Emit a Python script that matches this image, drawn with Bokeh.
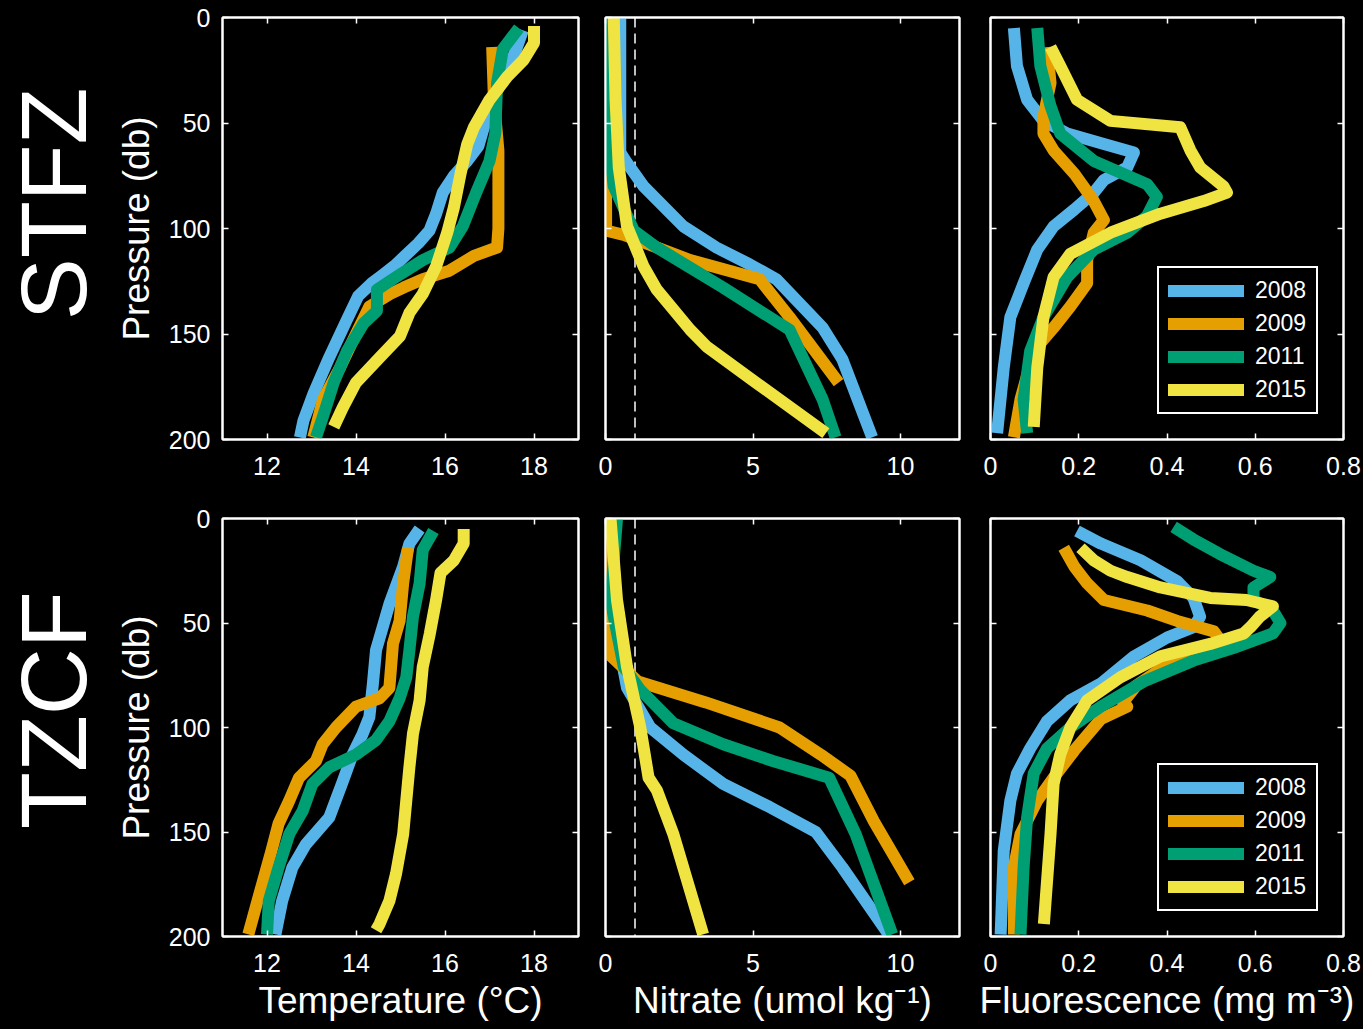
import math
from bokeh.plotting import figure
from bokeh.models import Range1d, FixedTicker, LinearAxis, Legend, LegendItem, Span
from bokeh.layouts import row, column
from bokeh.embed import file_html
from bokeh.resources import INLINE
from bokeh.core.properties import value

# ---------------- data ----------------
YEARS = ["2008", "2009", "2011", "2015"]
COLORS = ["#56B4E9", "#E69F00", "#009E73", "#F0E442"]
REGIONS = ["STFZ", "TZCF"]

P_TICKS = [0, 50, 100, 150, 200]
P_TICK_LABELS = ["0", "50", "100", "150", "200"]
T_TICKS = [12, 14, 16, 18]
T_TICK_LABELS = ["12", "14", "16", "18"]
N_TICKS = [0, 5, 10]
N_TICK_LABELS = ["0", "5", "10"]
F_TICKS = [0, 0.2, 0.4, 0.6, 0.8]
F_TICK_LABELS = ["0", "0.2", "0.4", "0.6", "0.8"]
NITRATE_REF = 1.0

# STFZ temperature
T_STFZ_2008_P = [6, 15, 25, 40, 50, 61, 68, 75, 83, 93, 101, 107, 113, 117, 122, 126, 132, 143, 161, 178, 191, 199]
T_STFZ_2008 = [17.75, 17.6, 17.4, 17.05, 16.9, 16.75, 16.5, 16.2, 15.95, 15.8, 15.65, 15.4, 15.1, 14.9, 14.6, 14.35, 14.05, 13.8, 13.4, 13.05, 12.82, 12.74]
T_STFZ_2009_P = [14, 39, 63, 80, 100, 109, 113, 120, 124, 128, 131, 137, 150, 166, 181, 199]
T_STFZ_2009 = [17.06, 17.1, 17.2, 17.2, 17.2, 17.17, 16.65, 16.1, 15.5, 15.07, 14.77, 14.3, 14.0, 13.64, 13.26, 13.04]
T_STFZ_2011_P = [5, 15, 31, 55, 68, 83, 99, 109, 115, 123, 129, 139, 145, 158, 173, 189, 199]
T_STFZ_2011 = [17.66, 17.3, 17.17, 17.13, 17.0, 16.7, 16.4, 16.1, 15.5, 14.9, 14.47, 14.47, 14.17, 13.8, 13.5, 13.26, 13.1]
T_STFZ_2015_P = [4, 12, 20, 28, 39, 52, 60, 74, 90, 102, 118, 131, 140, 151, 161, 173, 185, 194]
T_STFZ_2015 = [18.0, 18.0, 17.77, 17.4, 17.0, 16.65, 16.5, 16.35, 16.2, 16.05, 15.8, 15.5, 15.2, 14.99, 14.54, 14.0, 13.7, 13.5]

# STFZ nitrate
N_STFZ_2008_P = [0, 64, 69, 80, 99, 109, 117, 124, 147, 162, 199]
N_STFZ_2008 = [0.5, 0.5, 0.73, 1.29, 2.64, 3.76, 4.89, 5.79, 7.36, 8.03, 9.04]
N_STFZ_2009_P = [0, 40, 77, 101, 103, 115, 124, 142, 173]
N_STFZ_2009 = [0.05, 0.05, 0.02, 0.02, 0.62, 2.87, 5.22, 6.24, 7.9]
N_STFZ_2011_P = [0, 55, 80, 101, 109, 128, 148, 181, 199]
N_STFZ_2011 = [0.0, 0.06, 0.28, 0.96, 1.74, 3.99, 6.24, 7.36, 7.8]
N_STFZ_2015_P = [0, 39, 71, 99, 118, 129, 148, 156, 173, 197]
N_STFZ_2015 = [0.28, 0.34, 0.45, 0.73, 1.29, 1.74, 2.87, 3.43, 5.1, 7.47]

# STFZ fluorescence
F_STFZ_2008_P = [5, 23, 39, 49, 55, 60, 64, 71, 77, 83, 91, 99, 110, 126, 142, 166, 197]
F_STFZ_2008 = [0.053, 0.06, 0.083, 0.12, 0.174, 0.257, 0.325, 0.31, 0.257, 0.234, 0.19, 0.143, 0.106, 0.075, 0.045, 0.03, 0.015]
F_STFZ_2009_P = [14, 31, 47, 55, 63, 74, 87, 96, 102, 115, 126, 137, 147, 158, 181, 199]
F_STFZ_2009 = [0.128, 0.136, 0.12, 0.12, 0.143, 0.19, 0.234, 0.257, 0.234, 0.219, 0.219, 0.181, 0.143, 0.098, 0.068, 0.053]
F_STFZ_2011_P = [5, 23, 42, 55, 68, 79, 85, 94, 102, 110, 123, 142, 158, 181, 197]
F_STFZ_2011 = [0.106, 0.113, 0.136, 0.158, 0.234, 0.355, 0.377, 0.355, 0.31, 0.234, 0.174, 0.12, 0.09, 0.075, 0.083]
F_STFZ_2015_P = [14, 23, 39, 49, 52, 63, 71, 80, 83, 87, 93, 102, 112, 123, 142, 166, 194]
F_STFZ_2015 = [0.136, 0.158, 0.196, 0.272, 0.43, 0.453, 0.475, 0.528, 0.536, 0.483, 0.385, 0.272, 0.181, 0.143, 0.12, 0.106, 0.098]

# TZCF temperature
T_TZCF_2008_P = [5, 12, 23, 41, 52, 63, 79, 95, 103, 113, 126, 143, 156, 167, 183, 199]
T_TZCF_2008 = [15.43, 15.2, 15.06, 14.75, 14.6, 14.45, 14.38, 14.3, 14.15, 13.92, 13.7, 13.4, 12.87, 12.57, 12.34, 12.19]
T_TZCF_2009_P = [14, 31, 49, 60, 81, 86, 90, 100, 108, 116, 124, 135, 146, 159, 175, 199]
T_TZCF_2009 = [15.17, 15.06, 14.98, 14.83, 14.75, 14.53, 14.0, 13.55, 13.25, 13.1, 12.72, 12.5, 12.26, 12.1, 11.89, 11.58]
T_TZCF_2011_P = [6, 15, 31, 47, 63, 76, 86, 97, 106, 113, 119, 127, 140, 151, 167, 183, 199]
T_TZCF_2011 = [15.74, 15.5, 15.43, 15.28, 15.2, 15.13, 14.98, 14.75, 14.45, 14.0, 13.4, 13.02, 12.8, 12.5, 12.26, 12.04, 12.0]
T_TZCF_2015_P = [5, 12, 20, 26, 39, 55, 71, 87, 103, 119, 135, 151, 170, 183, 194, 197]
T_TZCF_2015 = [16.42, 16.42, 16.2, 15.9, 15.8, 15.66, 15.5, 15.43, 15.28, 15.2, 15.13, 15.06, 14.9, 14.75, 14.53, 14.45]

# TZCF nitrate
N_TZCF_2008_P = [0, 39, 81, 100, 113, 127, 138, 150, 167, 199]
N_TZCF_2008 = [0.3, 0.17, 0.73, 1.52, 2.64, 3.99, 5.56, 7.13, 8.03, 9.6]
N_TZCF_2009_P = [0, 49, 66, 78, 88, 100, 113, 123, 145, 174]
N_TZCF_2009 = [0.0, 0.0, 0.2, 1.1, 3.4, 5.9, 7.3, 8.3, 9.1, 10.3]
N_TZCF_2011_P = [0, 39, 71, 82, 98, 108, 116, 124, 151, 199]
N_TZCF_2011 = [0.39, 0.17, 0.62, 1.18, 2.3, 3.99, 5.67, 7.58, 8.48, 9.72]
N_TZCF_2015_P = [0, 39, 71, 100, 124, 130, 151, 199]
N_TZCF_2015 = [0.17, 0.39, 0.73, 1.18, 1.46, 1.74, 2.3, 3.31]

# TZCF fluorescence
F_TZCF_2008_P = [6, 12, 20, 30, 38, 47, 52, 57, 66, 79, 87, 97, 110, 122, 135, 159, 199]
F_TZCF_2008 = [0.196, 0.25, 0.34, 0.423, 0.46, 0.475, 0.46, 0.4, 0.325, 0.25, 0.181, 0.128, 0.09, 0.06, 0.045, 0.03, 0.023]
F_TZCF_2009_P = [14, 23, 31, 39, 44, 49, 54, 58, 63, 70, 80, 88, 90, 96, 111, 124, 135, 151, 167, 199]
F_TZCF_2009 = [0.166, 0.19, 0.219, 0.257, 0.355, 0.423, 0.506, 0.52, 0.48, 0.4, 0.33, 0.3, 0.31, 0.25, 0.19, 0.143, 0.106, 0.068, 0.053, 0.053]
F_TZCF_2011_P = [4, 10, 17, 25, 28, 33, 39, 44, 50, 55, 62, 68, 78, 90, 100, 110, 122, 143, 167, 199]
F_TZCF_2011 = [0.415, 0.46, 0.52, 0.596, 0.634, 0.596, 0.596, 0.64, 0.657, 0.64, 0.55, 0.46, 0.347, 0.25, 0.181, 0.128, 0.098, 0.083, 0.075, 0.068]
F_TZCF_2015_P = [14, 20, 25, 28, 33, 38, 39, 42, 47, 52, 55, 60, 66, 76, 87, 100, 113, 127, 151, 194]
F_TZCF_2015 = [0.204, 0.234, 0.272, 0.31, 0.385, 0.498, 0.58, 0.64, 0.61, 0.589, 0.574, 0.498, 0.385, 0.294, 0.219, 0.181, 0.158, 0.143, 0.136, 0.121]

PROFILES = {
    ("STFZ", "T"): [(T_STFZ_2008, T_STFZ_2008_P), (T_STFZ_2009, T_STFZ_2009_P), (T_STFZ_2011, T_STFZ_2011_P), (T_STFZ_2015, T_STFZ_2015_P)],
    ("STFZ", "N"): [(N_STFZ_2008, N_STFZ_2008_P), (N_STFZ_2009, N_STFZ_2009_P), (N_STFZ_2011, N_STFZ_2011_P), (N_STFZ_2015, N_STFZ_2015_P)],
    ("STFZ", "F"): [(F_STFZ_2008, F_STFZ_2008_P), (F_STFZ_2009, F_STFZ_2009_P), (F_STFZ_2011, F_STFZ_2011_P), (F_STFZ_2015, F_STFZ_2015_P)],
    ("TZCF", "T"): [(T_TZCF_2008, T_TZCF_2008_P), (T_TZCF_2009, T_TZCF_2009_P), (T_TZCF_2011, T_TZCF_2011_P), (T_TZCF_2015, T_TZCF_2015_P)],
    ("TZCF", "N"): [(N_TZCF_2008, N_TZCF_2008_P), (N_TZCF_2009, N_TZCF_2009_P), (N_TZCF_2011, N_TZCF_2011_P), (N_TZCF_2015, N_TZCF_2015_P)],
    ("TZCF", "F"): [(F_TZCF_2008, F_TZCF_2008_P), (F_TZCF_2009, F_TZCF_2009_P), (F_TZCF_2011, F_TZCF_2011_P), (F_TZCF_2015, F_TZCF_2015_P)],
}

# ---------------- styling / layout ----------------
FONT = "Liberation Sans"
TICK_FS = "25px"
LABEL_FS = "37px"
ROW_CFG = {
    "STFZ": dict(top=17, frame_h=422, bottom=59),
    "TZCF": dict(top=20, frame_h=418, bottom=90),
}
COL_CFG = {
    "T": dict(left=116, frame_w=356, right=13, xr=(11, 19), ticks=T_TICKS, labels=T_TICK_LABELS, title="Temperature (°C)"),
    "N": dict(left=14, frame_w=354, right=15, xr=(0, 12), ticks=N_TICKS, labels=N_TICK_LABELS, title="Nitrate (umol kg⁻¹)"),
    "F": dict(left=16, frame_w=353, right=20, xr=(0, 0.8), ticks=F_TICKS, labels=F_TICK_LABELS, title="Fluorescence (mg m⁻³)"),
}
ROW_LABEL_W = 106
ROW_LABEL_X = 53
ROW_LABEL_Y = {"STFZ": 220, "TZCF": 242}
NAN = float("nan")


def style_axis(ax, ticks, labels, show, standoff):
    ax.ticker = FixedTicker(ticks=ticks)
    ax.major_label_overrides = {t: l for t, l in zip(ticks, labels)}
    ax.axis_line_color = "white"
    ax.axis_line_width = 2
    ax.major_tick_line_color = "white"
    ax.major_tick_line_width = 1.5
    ax.major_tick_in = 6
    ax.major_tick_out = 0
    ax.minor_tick_line_color = None
    ax.major_label_text_font = FONT
    if show:
        ax.major_label_text_color = "white"
        ax.major_label_text_font_size = TICK_FS
        ax.major_label_standoff = standoff
    else:
        ax.major_label_text_color = None
        ax.major_label_text_font_size = "0px"
        ax.major_label_standoff = 0
    ax.axis_label_text_color = "white"
    ax.axis_label_text_font = FONT
    ax.axis_label_text_font_style = "normal"
    ax.axis_label_text_font_size = LABEL_FS


def make_panel(region, var):
    rc = ROW_CFG[region]
    cc = COL_CFG[var]
    p = figure(frame_width=cc["frame_w"], frame_height=rc["frame_h"],
               x_range=Range1d(*cc["xr"]), y_range=Range1d(200, 0),
               output_backend="svg", toolbar_location=None,
               background_fill_color="black", border_fill_color="black",
               min_border_left=cc["left"], min_border_right=cc["right"],
               min_border_top=rc["top"], min_border_bottom=rc["bottom"])
    p.grid.visible = False
    p.outline_line_color = "white"
    p.outline_line_width = 2

    xa = p.xaxis[0]
    ya = p.yaxis[0]
    style_axis(xa, cc["ticks"], cc["labels"], True, 17)
    style_axis(ya, P_TICKS, P_TICK_LABELS, var == "T", 12)
    if var == "T":
        ya.axis_label = "Pressure (db)"
        ya.axis_label_standoff = 9
    if region == "TZCF":
        xa.axis_label = cc["title"]
        xa.axis_label_standoff = 5

    top = LinearAxis()
    style_axis(top, cc["ticks"], cc["labels"], False, 0)
    p.add_layout(top, "above")
    right = LinearAxis()
    style_axis(right, P_TICKS, P_TICK_LABELS, False, 0)
    p.add_layout(right, "right")

    if var == "N":
        p.add_layout(Span(location=NITRATE_REF, dimension="height", line_color="white",
                          line_width=1.5, line_dash="10 6", level="underlay"))

    for (vals, pres), col in zip(PROFILES[(region, var)], COLORS):
        p.line(x=vals, y=pres, line_color=col, line_width=12, line_join="round", line_cap="butt")

    if var == "F":
        items = []
        for yr, col in zip(YEARS, COLORS):
            # legend-only renderer (no visible data) so the key can have rounded ends
            r = p.line(x=[NAN], y=[NAN], line_color=col, line_width=12, line_cap="round")
            items.append(LegendItem(label=yr, renderers=[r]))
        lg = Legend(items=items, location="bottom_right", margin=25,
                    background_fill_color="black", background_fill_alpha=1.0,
                    border_line_color="white", border_line_width=2, border_line_alpha=1.0,
                    label_text_color="white", label_text_font=FONT, label_text_font_size="23px",
                    glyph_width=76, glyph_height=27, label_height=27, label_width=52,
                    label_standoff=11, padding=9, spacing=6)
        p.add_layout(lg)
    return p


def make_row_label(region):
    rc = ROW_CFG[region]
    h = rc["top"] + rc["frame_h"] + rc["bottom"]
    lab = figure(width=ROW_LABEL_W, height=h, x_range=Range1d(0, ROW_LABEL_W), y_range=Range1d(h, 0),
                 output_backend="svg", toolbar_location=None, x_axis_type=None, y_axis_type=None,
                 background_fill_color="black", border_fill_color="black", min_border=0)
    lab.grid.visible = False
    lab.outline_line_color = None
    lab.text(x=[ROW_LABEL_X], y=[ROW_LABEL_Y[region]], text=[region], angle=math.pi / 2,
             text_align="center", text_baseline="middle", text_color="white",
             text_font=value(FONT), text_font_size="93px")
    return lab


rows = []
for region in REGIONS:
    rows.append(row(make_row_label(region), make_panel(region, "T"), make_panel(region, "N"), make_panel(region, "F")))
layout = column(*rows)

html = file_html(layout, INLINE, title="Profiles")
html = html.replace("</head>", "<style>html, body { background: #000; margin: 0; padding: 0; overflow: hidden; }</style></head>")
open("out.html", "w").write(html)
